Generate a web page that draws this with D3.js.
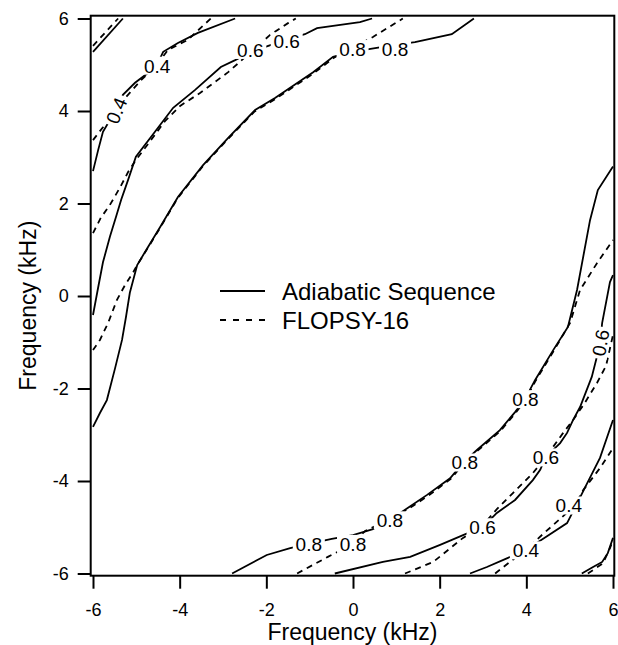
<!DOCTYPE html>
<html>
<head>
<meta charset="utf-8">
<script src="https://cdn.jsdelivr.net/npm/d3@7"></script>
<style>
  html, body { margin: 0; padding: 0; background: #fff; }
  svg { display: block; font-family: "Liberation Sans", Arial, sans-serif; }
</style>
</head>
<body>
<svg id="chart" width="618" height="645"></svg>
<script>
// Contour lines, [x kHz, y kHz]
// solid = adiabatic sequence, dashed = FLOPSY-16

// top-left family
var adiabatic02TL = [[-6.00, 5.28], [-5.31, 6.00]];
var flopsy02TL = [[-6.00, 5.41], [-5.42, 6.00]];

var adiabatic04TL = [[-6.00, 2.70], [-5.88, 3.16], [-5.77, 3.55], [-5.45, 4.06], [-5.31, 4.35],
    [-5.03, 4.61], [-4.55, 4.95], [-4.38, 5.28], [-4.04, 5.47], [-3.58, 5.69], [-2.72, 6.00]];
var flopsy04TL = [[-6.00, 3.37], [-5.77, 3.65], [-5.45, 4.09], [-5.24, 4.30], [-4.89, 4.67],
    [-4.55, 4.97], [-4.27, 5.32], [-3.81, 5.54], [-3.28, 6.00]];

var adiabatic06TL = [[-6.00, -0.41], [-5.88, 0.19], [-5.77, 0.73], [-5.61, 1.28], [-5.47, 1.71],
    [-5.35, 2.08], [-5.19, 2.51], [-5.01, 3.01], [-4.57, 3.55], [-4.15, 4.07], [-3.65, 4.45],
    [-3.05, 4.95], [-2.72, 5.10], [-2.35, 5.28], [-1.55, 5.54], [-1.11, 5.66], [-0.83, 5.79],
    [0.16, 5.92], [0.44, 6.00]];
var flopsy06TL = [[-6.00, 1.36], [-5.82, 1.69], [-5.61, 1.97], [-5.38, 2.34], [-5.19, 2.68],
    [-5.01, 2.94], [-4.68, 3.35], [-4.34, 3.78], [-3.99, 4.11], [-3.53, 4.39], [-2.88, 4.84],
    [-2.35, 5.28], [-1.92, 5.64], [-1.50, 5.90], [-1.32, 6.00]];

var adiabatic08TL = [[-6.00, -2.83], [-5.84, -2.53], [-5.68, -2.25], [-5.49, -1.56], [-5.33, -0.95],
    [-5.24, -0.46], [-5.15, 0.07], [-4.98, 0.67], [-4.73, 1.06], [-4.45, 1.49], [-4.04, 2.14],
    [-3.46, 2.83], [-2.88, 3.42], [-2.26, 4.02], [-1.80, 4.28], [-0.92, 4.84], [-0.46, 5.17],
    [-0.02, 5.28], [0.97, 5.43], [1.43, 5.49], [2.28, 5.66], [2.79, 6.00]];
var flopsy08TL = [[-6.00, -1.17], [-5.84, -0.95], [-5.65, -0.58], [-5.45, -0.09], [-5.26, 0.24],
    [-5.08, 0.50], [-4.98, 0.67], [-4.74, 1.03], [-4.46, 1.46], [-4.05, 2.11], [-3.47, 2.80],
    [-2.89, 3.39], [-2.27, 3.99], [-1.81, 4.25], [-0.93, 4.80], [-0.44, 5.15], [0.46, 5.60],
    [1.15, 6.00]];

// bottom-right family
var adiabatic08BR = [[-2.79, -6.00], [-1.99, -5.60], [-1.45, -5.45], [-1.02, -5.36], [-0.49, -5.25],
    [0.00, -5.17], [0.46, -5.04], [0.85, -4.84], [1.27, -4.58], [1.71, -4.30], [2.24, -3.94],
    [2.54, -3.61], [2.86, -3.33], [3.39, -2.90], [3.74, -2.51], [3.97, -2.23], [4.20, -1.82],
    [4.62, -1.17], [4.96, -0.67], [5.17, 0.13], [5.47, 1.64], [5.65, 2.29], [6.00, 2.80]];
var flopsy08BR = [[-1.29, -6.00], [-0.58, -5.64], [-0.18, -5.45], [0.00, -5.34], [0.28, -5.08],
    [0.62, -4.93], [0.85, -4.84], [1.28, -4.60], [1.72, -4.33], [2.25, -3.96], [2.55, -3.63],
    [2.87, -3.35], [3.40, -2.92], [3.75, -2.53], [3.98, -2.25], [4.21, -1.84], [4.63, -1.19],
    [5.01, -0.58], [5.24, 0.13], [5.63, 0.71], [6.00, 1.21]];

var adiabatic06BR = [[-0.42, -6.00], [0.69, -5.75], [1.32, -5.64], [2.01, -5.38], [2.54, -5.17],
    [3.00, -4.99], [3.32, -4.69], [3.74, -4.41], [4.15, -3.98], [4.32, -3.76], [4.45, -3.48],
    [4.78, -3.18], [4.94, -2.96], [5.08, -2.68], [5.24, -2.40], [5.51, -1.75], [5.63, -1.31],
    [5.70, -1.02], [5.75, -0.58], [5.93, 0.30], [6.00, 0.45]];
var flopsy06BR = [[1.20, -6.00], [1.85, -5.75], [2.54, -5.23], [3.00, -4.95], [3.32, -4.61],
    [3.69, -4.26], [4.15, -3.83], [4.45, -3.48], [4.85, -2.96], [5.08, -2.68], [5.35, -2.31],
    [5.63, -1.88], [5.84, -1.51], [6.00, -0.84]];

var adiabatic04BR = [[2.70, -6.00], [3.09, -5.86], [3.51, -5.69], [3.99, -5.49], [4.45, -5.21],
    [4.94, -4.91], [5.12, -4.58], [5.35, -4.15], [5.70, -3.50], [6.00, -2.68]];
var flopsy04BR = [[3.28, -6.00], [3.62, -5.75], [3.99, -5.49], [4.38, -5.15], [4.85, -4.76],
    [5.12, -4.52], [5.31, -4.20], [5.70, -3.72], [6.00, -3.29]];

var adiabatic02BR = [[5.28, -6.00], [5.54, -5.86], [5.75, -5.75], [5.88, -5.56], [6.00, -5.23]];
var flopsy02BR = [[5.42, -6.00], [5.77, -5.78], [5.93, -5.45], [6.00, -5.28]];

var adiabaticLines = [adiabatic02TL, adiabatic04TL, adiabatic06TL, adiabatic08TL,
    adiabatic08BR, adiabatic06BR, adiabatic04BR, adiabatic02BR];
var flopsyLines = [flopsy02TL, flopsy04TL, flopsy06TL, flopsy08TL,
    flopsy08BR, flopsy06BR, flopsy04BR, flopsy02BR];

// inline contour labels: [text, x, y, rotation]
var contourLabels = [
    ["0.4", -5.46, 4.01, -68], ["0.4", -4.52, 4.98, 0],
    ["0.6", -2.37, 5.32, 0], ["0.6", -1.53, 5.50, 0],
    ["0.8", -0.01, 5.34, 0], ["0.8", 0.97, 5.34, 0],
    ["0.8", -1.02, -5.36, 0], ["0.8", 0.00, -5.36, 0], ["0.8", 0.85, -4.85, 0],
    ["0.8", 2.58, -3.60, 0], ["0.8", 3.98, -2.23, 0],
    ["0.6", 2.99, -5.00, 0], ["0.6", 4.45, -3.49, 0], ["0.6", 5.71, -1.01, -80],
    ["0.4", 3.99, -5.50, 0], ["0.4", 4.98, -4.53, 0]
];

var xTicks = [-6, -4, -2, 0, 2, 4, 6];
var yTicks = [-6, -4, -2, 0, 2, 4, 6];
var legendNames = ["Adiabatic Sequence", "FLOPSY-16"];
var axisTitle = "Frequency (kHz)";

(function () {
    "use strict";

    var svg = d3.select("#chart");

    // frame sits a hair outside the ±6 ticks, as in the reference
    var frame = { left: 90.7, right: 614.3, top: 15.7, bottom: 575.7 };

    var x = d3.scaleLinear().domain([-6, 6]).range([93, 613]);
    var y = d3.scaleLinear().domain([-6, 6]).range([573.5, 18.5]);

    svg.append("clipPath").attr("id", "plotclip")
        .append("rect")
        .attr("x", frame.left).attr("y", frame.top)
        .attr("width", frame.right - frame.left)
        .attr("height", frame.bottom - frame.top);

    var line = d3.line()
        .x(function (d) { return x(d[0]); })
        .y(function (d) { return y(d[1]); });

    var plot = svg.append("g").attr("clip-path", "url(#plotclip)");

    plot.selectAll("path.flopsy")
        .data(flopsyLines)
        .enter().append("path")
        .attr("class", "flopsy")
        .attr("d", line)
        .attr("fill", "none")
        .attr("stroke", "#000")
        .attr("stroke-width", 1.8)
        .attr("stroke-dasharray", "6 5");

    plot.selectAll("path.adiabatic")
        .data(adiabaticLines)
        .enter().append("path")
        .attr("class", "adiabatic")
        .attr("d", line)
        .attr("fill", "none")
        .attr("stroke", "#000")
        .attr("stroke-width", 1.8);

    // labels knock a gap out of the lines
    var lab = plot.selectAll("g.clabel")
        .data(contourLabels)
        .enter().append("g")
        .attr("class", "clabel")
        .attr("transform", function (d) {
            return "translate(" + x(d[1]) + "," + y(d[2]) + ") rotate(" + d[3] + ")";
        });

    lab.append("rect")
        .attr("x", -16).attr("y", -9)
        .attr("width", 32).attr("height", 18)
        .attr("fill", "#fff");

    lab.append("text")
        .attr("text-anchor", "middle")
        .attr("dy", "0.36em")
        .attr("font-size", 19)
        .attr("fill", "#000")
        .text(function (d) { return d[0]; });

    // frame
    svg.append("rect")
        .attr("x", frame.left).attr("y", frame.top)
        .attr("width", frame.right - frame.left)
        .attr("height", frame.bottom - frame.top)
        .attr("fill", "none")
        .attr("stroke", "#000")
        .attr("stroke-width", 2);

    // axes
    var fmt = function (d) { return String(d); };

    var gx = svg.append("g")
        .attr("transform", "translate(0," + frame.bottom + ")")
        .call(d3.axisBottom(x).tickValues(xTicks).tickFormat(fmt)
            .tickSize(13).tickSizeOuter(0).tickPadding(15));

    var gy = svg.append("g")
        .attr("transform", "translate(" + frame.left + ",0)")
        .call(d3.axisLeft(y).tickValues(yTicks).tickFormat(fmt)
            .tickSize(13).tickSizeOuter(0).tickPadding(9));

    [gx, gy].forEach(function (g) {
        g.select(".domain").remove();
        g.attr("font-family", null).attr("font-size", null);
        g.selectAll(".tick line").attr("stroke", "#000").attr("stroke-width", 2);
        g.selectAll(".tick text").attr("font-size", 18).attr("fill", "#000");
    });

    // axis titles
    svg.append("text")
        .attr("x", (frame.left + frame.right) / 2)
        .attr("y", 640)
        .attr("text-anchor", "middle")
        .attr("font-size", 23)
        .attr("fill", "#000")
        .text(axisTitle);

    svg.append("text")
        .attr("transform", "translate(36," + ((frame.top + frame.bottom) / 2 + 10) + ") rotate(-90)")
        .attr("text-anchor", "middle")
        .attr("font-size", 23)
        .attr("fill", "#000")
        .text(axisTitle);

    // legend
    var legend = svg.append("g").attr("transform", "translate(220,291)");
    var rows = legend.selectAll("g")
        .data(legendNames)
        .enter().append("g")
        .attr("transform", function (d, i) { return "translate(0," + i * 29 + ")"; });

    rows.append("line")
        .attr("x1", 0).attr("x2", 45)
        .attr("y1", 0).attr("y2", 0)
        .attr("stroke", "#000")
        .attr("stroke-width", 1.8)
        .attr("stroke-dasharray", function (d, i) { return i === 1 ? "6 7" : null; });

    rows.append("text")
        .attr("x", 62)
        .attr("dy", "0.36em")
        .attr("font-size", 24)
        .attr("fill", "#000")
        .text(function (d) { return d; });
})();
</script>
</body>
</html>
